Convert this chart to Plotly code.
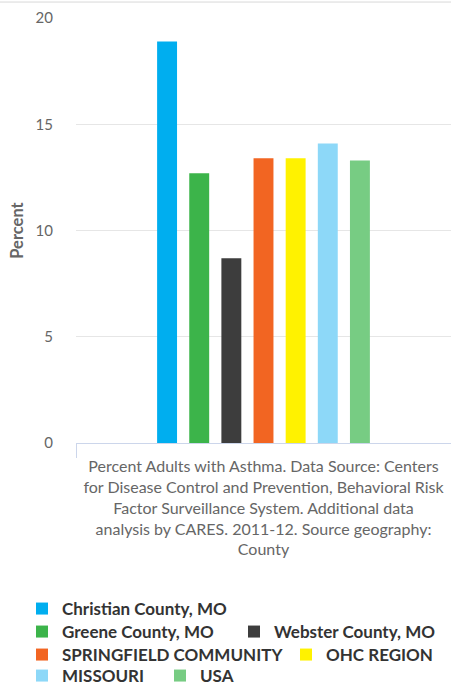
import plotly.graph_objects as go

category = ("Percent Adults with Asthma. Data Source: Centers<br>"
            "for Disease Control and Prevention, Behavioral Risk<br>"
            "Factor Surveillance System. Additional data<br>"
            "analysis by CARES. 2011-12. Source geography:<br>"
            "County")

series_names = [
    "Christian County, MO",
    "Greene County, MO",
    "Webster County, MO",
    "SPRINGFIELD COMMUNITY",
    "OHC REGION",
    "MISSOURI",
    "USA",
]
series_values = [18.9, 12.7, 8.7, 13.4, 13.4, 14.1, 13.3]
series_colors = ["#00AEEF", "#3CB44A", "#3D3D3D", "#F26522", "#FFF200", "#8DD8F8", "#77CC83"]

W, H = 451, 694
L, R, T, B = 76, 0, 18, 250
plot_w = W - L - R
plot_h = H - T - B

# where each legend entry sits (text left edge, row centre), in pixels,
# so the legend wraps the same way as the original
legend_pos = [(62, 609), (62, 632), (274, 632), (62, 655), (326, 655), (62, 678), (200, 678)]

fig = go.Figure()
for i, (name, val, col) in enumerate(zip(series_names, series_values, series_colors)):
    fig.add_trace(go.Bar(
        x=[category], y=[val], name=name,
        marker=dict(color=col, line=dict(width=0)),
        legend="legend" if i == 0 else f"legend{i + 1}",
        hovertemplate=name + ": %{y}<extra></extra>",
    ))

font_family = "Lato, 'Open Sans', sans-serif"
legend_font = dict(family=font_family, size=17, color="#333333", weight="bold")

legends = {}
for i, (tx, ty) in enumerate(legend_pos):
    key = "legend" if i == 0 else f"legend{i + 1}"
    legends[key] = dict(
        orientation="h",
        x=(tx - 40 - L) / plot_w, xanchor="left",
        y=(H - B - ty) / plot_h, yanchor="middle",
        font=legend_font,
        bgcolor="rgba(0,0,0,0)",
        itemclick=False, itemdoubleclick=False,
    )

fig.update_layout(
    width=W, height=H,
    margin=dict(l=L, r=R, t=T, b=B),
    paper_bgcolor="white", plot_bgcolor="white",
    font=dict(family=font_family, size=16, color="#666666"),
    barmode="group",
    bargap=0.4,
    bargroupgap=0.38,
    showlegend=True,
    xaxis=dict(
        type="category",
        showline=True, linecolor="#ccd6eb", linewidth=1,
        ticks="outside", tickson="boundaries", ticklen=14, tickcolor="#ccd6eb",
        showgrid=False,
        ticklabelstandoff=9,
        tickfont=dict(size=16, color="#666666"),
        fixedrange=True,
    ),
    yaxis=dict(
        range=[0, 20],
        tickvals=[0, 5, 10, 15, 20],
        showgrid=True, gridcolor="#e6e6e6", gridwidth=1,
        zeroline=False,
        showline=False,
        ticks="",
        ticklabelstandoff=22,
        tickfont=dict(size=15, color="#666666"),
        title=dict(text="Percent", font=dict(size=16.5, color="#666666", weight="bold"), standoff=7),
        fixedrange=True,
    ),
    shapes=[dict(
        type="line", xref="paper", yref="paper",
        x0=-L / plot_w, x1=1, y0=1 + 16 / plot_h, y1=1 + 16 / plot_h,
        line=dict(color="#d8d8d8", width=1),
    )],
    **legends,
)

fig.write_html("out.html", config={"displayModeBar": False},
               post_script="document.body.style.margin = '0';")
